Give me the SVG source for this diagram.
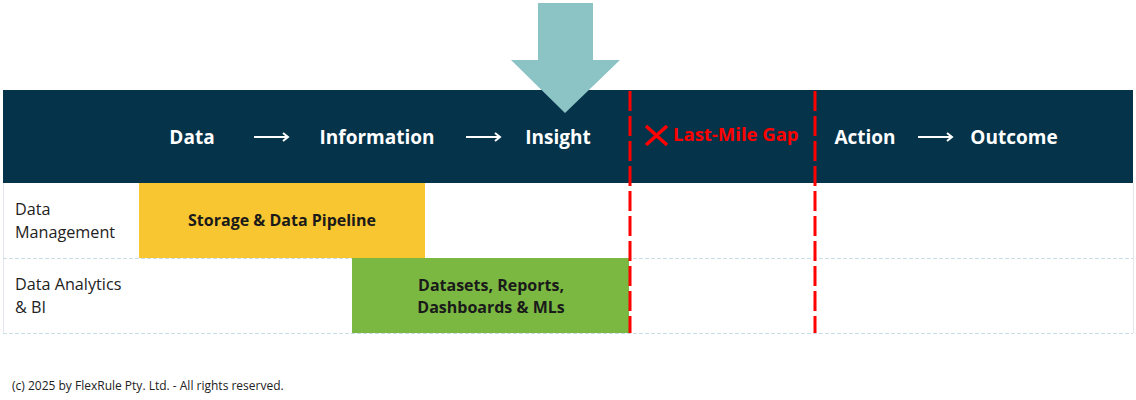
<svg xmlns="http://www.w3.org/2000/svg" width="1136" height="400" viewBox="0 0 1136 400">
<style>
.hdr{font-family:"Open Sans","Liberation Sans",sans-serif;font-weight:bold;font-size:19px;fill:#fff;text-anchor:middle}
.lbl{font-family:"Open Sans","Liberation Sans",sans-serif;font-size:16.2px;fill:#222}
.box{font-family:"Open Sans","Liberation Sans",sans-serif;font-weight:bold;font-size:16px;fill:#1a1a1a;text-anchor:middle}
.gap{stroke:#ff0000;stroke-width:3;stroke-dasharray:20 5}
.row{stroke:#c9dde6;stroke-width:1;stroke-dasharray:4 2}
</style>
<rect width="1136" height="400" fill="#fff"/>
<g id="table">
<rect x="3" y="90" width="1130" height="93" fill="#04334a"/>
<rect x="3" y="183" width="1130" height="150" fill="#fff"/>
<line x1="3.5" y1="183" x2="3.5" y2="333" stroke="#e3e6ea"/>
<line x1="1133.5" y1="183" x2="1133.5" y2="333" stroke="#e3e6ea"/>
<line class="row" x1="3" y1="258.5" x2="1133" y2="258.5"/>
<line class="row" x1="3" y1="333.5" x2="1133" y2="333.5"/>
</g>
<g id="node-storage">
<rect x="139" y="183" width="286" height="75" fill="#f8c630"/>
<text class="box" x="282" y="226">Storage &amp; Data Pipeline</text>
</g>
<g id="node-datasets">
<rect x="352" y="258" width="277" height="75" fill="#7ab842"/>
<text class="box" x="491" y="291">Datasets, Reports,</text>
<text class="box" x="491" y="313">Dashboards &amp; MLs</text>
</g>
<g id="row-labels">
<text class="lbl" x="15" y="215">Data</text>
<text class="lbl" x="15" y="238">Management</text>
<text class="lbl" x="15" y="290">Data Analytics</text>
<text class="lbl" x="15" y="313">&amp; BI</text>
</g>
<g id="headers">
<text class="hdr" x="192" y="144">Data</text>
<text class="hdr" x="377" y="144">Information</text>
<text class="hdr" x="558" y="144">Insight</text>
<text class="hdr" x="865" y="144">Action</text>
<text class="hdr" x="1014" y="144">Outcome</text>
<text x="673" y="141" font-family="'Open Sans','Liberation Sans',sans-serif" font-weight="bold" font-size="18.5" fill="#ff0000">Last-Mile Gap</text>
</g>
<g id="connectors" stroke="#fff" stroke-width="2" fill="none">
<path d="M254 137H288M283 133L288 137L283 141"/>
<path d="M466 137H500M495 133L500 137L495 141"/>
<path d="M918 137H952M947 133L952 137L947 141"/>
<path d="M646 126L667 145M667 126L646 145" stroke="#ff0000" stroke-width="3.5"/>
<line class="gap" x1="630" y1="91" x2="630" y2="333"/>
<line class="gap" x1="815" y1="91" x2="815" y2="333"/>
</g>
<g id="big-arrow">
<polygon points="538,3 593,3 593,60 620,60 565,113 511,60 538,60" fill="#8cc4c6"/>
</g>
<text x="12" y="390" font-family="'Open Sans','Liberation Sans',sans-serif" font-size="12" fill="#222">(c) 2025 by FlexRule Pty. Ltd. - All rights reserved.</text>
</svg>
